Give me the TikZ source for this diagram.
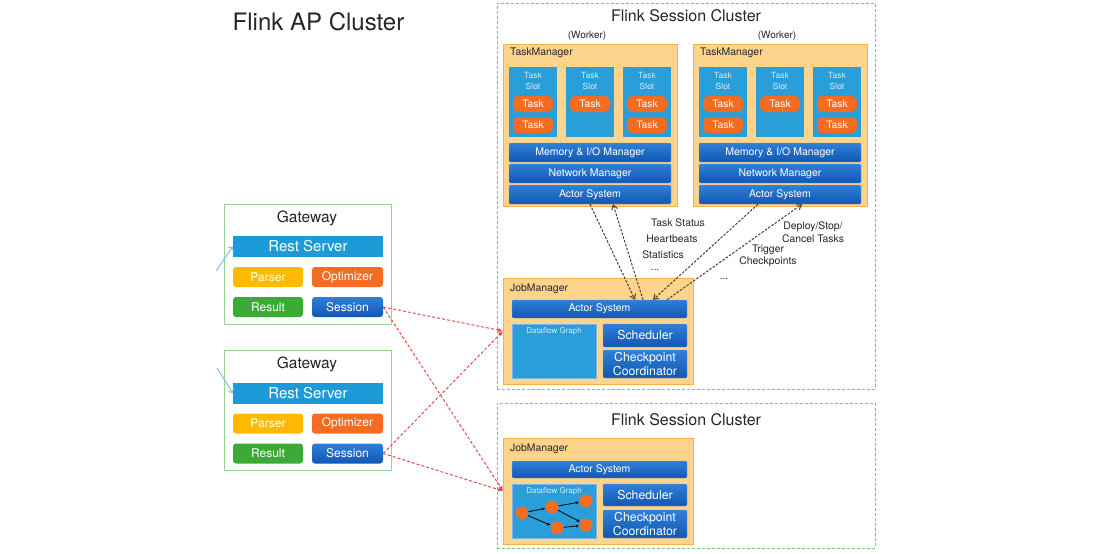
\documentclass[tikz,border=0pt]{standalone}
\usepackage{fontspec}
\setmainfont{TeX Gyre Heros}
\usetikzlibrary{arrows.meta}
\definecolor{ApText}{HTML}{262626}
\definecolor{ApGreen}{HTML}{9CD096}
\definecolor{ApCluster}{HTML}{7FC27B}
\definecolor{ApMgrFill}{HTML}{FDD48C}
\definecolor{ApMgrBorder}{HTML}{F6B24A}
\definecolor{ApSlot}{HTML}{2A9ED9}
\definecolor{ApSlotText}{HTML}{D3ECFA}
\definecolor{ApBarTop}{HTML}{2F80D7}
\definecolor{ApBarBot}{HTML}{1157B3}
\definecolor{ApTask}{HTML}{F36C21}
\definecolor{ApParser}{HTML}{FFBA00}
\definecolor{ApResult}{HTML}{3BAA36}
\definecolor{ApRest}{HTML}{1D9BD8}
\definecolor{ApRed}{HTML}{E84B4B}
\definecolor{ApFeed}{HTML}{7DB9E2}
\definecolor{ApMsg}{HTML}{4A3E30}

\begin{document}
\begin{tikzpicture}[
  x=1pt,y=-1pt,
  cluster/.style={draw=ApCluster,dash pattern=on 3pt off 2pt,line width=1pt,inner sep=0},
  mgr/.style={draw=ApMgrBorder,fill=ApMgrFill,line width=0.8pt,inner sep=0},
  mgrtitle/.style={anchor=west,text=ApText,font=\fontsize{10.4}{12}\selectfont,inner sep=0},
  slot/.style={fill=ApSlot,inner sep=0,minimum width=48pt,minimum height=70pt},
  slottext/.style={text=ApSlotText,align=center,font=\fontsize{8.5}{10.5}\selectfont,inner sep=0},
  pill/.style={fill=ApTask,rounded corners=6pt,text=white,minimum width=40pt,minimum height=16pt,inner sep=0,font=\fontsize{10.3}{12}\selectfont},
  bar/.style={top color=ApBarTop,bottom color=ApBarBot,draw=ApBarTop!70!white,rounded corners=1pt,text=white,inner sep=0,font=\fontsize{10.5}{12}\selectfont},
  bigbar/.style={bar,align=center,font=\fontsize{12.3}{14.5}\selectfont},
  dfbox/.style={fill=ApSlot,draw=ApBarTop!60!white,inner sep=0,minimum width=84pt,minimum height=54pt},
  dftext/.style={text=ApSlotText,font=\fontsize{8}{9}\selectfont,inner sep=0},
  gwbox/.style={draw=ApGreen,line width=1pt,minimum width=167pt,minimum height=120pt,inner sep=0},
  gwtitle/.style={text=ApText,font=\fontsize{15.5}{18}\selectfont,inner sep=0},
  btn/.style={rounded corners=3pt,text=white,inner sep=0,minimum height=20pt,minimum width=70pt,font=\fontsize{12}{14}\selectfont},
  note/.style={text=ApText,font=\fontsize{10.4}{12}\selectfont,inner sep=0},
  msg/.style={draw=ApMsg,dash pattern=on 2.5pt off 1.5pt,line width=1pt,-{Straight Barb[length=4.5pt,width=6pt]}},
  req/.style={draw=ApRed,dash pattern=on 3pt off 2pt,line width=1pt,-{Latex[length=5pt,width=4.5pt]}},
  feed/.style={draw=ApFeed,line width=0.9pt,-{Straight Barb[length=3pt]}},
  op/.style={circle,fill=ApTask,minimum size=13pt,inner sep=0},
  flow/.style={black,line width=0.8pt,-{Latex[length=3.5pt,width=3pt]}}
]
\path[fill=white] (0,0) rectangle (1098,554);
\useasboundingbox (0,0) rectangle (1098,554);

% title
\node[text=ApText,font=\fontsize{24}{28}\selectfont] (aptitle) at (318.5,22) {Flink AP Cluster};

% session clusters
\node[cluster,minimum width=378pt,minimum height=386pt] (sc1) at (686,196) {};
\node[text=ApText,font=\fontsize{16}{19}\selectfont] (sc1title) at (686,16) {Flink Session Cluster};
\node[cluster,minimum width=378pt,minimum height=145pt] (sc2) at (686,475.5) {};
\node[text=ApText,font=\fontsize{16}{19}\selectfont] (sc2title) at (686,420) {Flink Session Cluster};

% task managers
\foreach \i/\cx in {1/590,2/780} {
  \node[note,font=\fontsize{10}{12}\selectfont] (tm\i worker) at (\cx-3,36) {(Worker)};
  \node[mgr,minimum width=174pt,minimum height=162pt] (tm\i) at (\cx,125) {};
  \node[mgrtitle] (tm\i title) at (\cx-80,53) {TaskManager};
  \foreach \j/\dx in {a/-57,b/0,c/57} {
    \node[slot] (tm\i\j) at (\cx+\dx,102) {};
    \node[slottext] at (\cx+\dx,81) {Task\\Slot};
    \node[pill] (tm\i\j1) at (\cx+\dx,104) {Task};
  }
  \node[pill] (tm\i a2) at (\cx-57,125) {Task};
  \node[pill] (tm\i c2) at (\cx+57,125) {Task};
  \node[bar,minimum width=162pt,minimum height=19pt] (tm\i mem) at (\cx,152.5) {Memory \& I/O Manager};
  \node[bar,minimum width=162pt,minimum height=19pt] (tm\i net) at (\cx,173.5) {Network Manager};
  \node[bar,minimum width=162pt,minimum height=19pt] (tm\i act) at (\cx,194.5) {Actor System};
}

% job manager 1
\node[mgr,minimum width=190pt,minimum height=106pt] (jm1) at (598.5,331) {};
\node[mgrtitle] (jm1title) at (510,288.5) {JobManager};
\node[bar,minimum width=175pt,minimum height=18pt] (jm1act) at (599.5,309) {Actor System};
\node[dfbox] (jm1df) at (554,351) {};
\node[dftext] at (554,331) {Dataflow Graph};
\node[bigbar,minimum width=84pt,minimum height=23pt] (jm1sch) at (645,335.5) {Scheduler};
\node[bigbar,minimum width=84pt,minimum height=28pt] (jm1cp) at (645,364) {Checkpoint\\Coordinator};

% job manager 2
\node[mgr,minimum width=190pt,minimum height=106pt] (jm2) at (598.5,491) {};
\node[mgrtitle] (jm2title) at (510,449) {JobManager};
\node[bar,minimum width=175pt,minimum height=17pt] (jm2act) at (599.5,469.5) {Actor System};
\node[dfbox] (jm2df) at (554,511) {};
\node[dftext] at (554,491) {Dataflow Graph};
\node[bigbar,minimum width=84pt,minimum height=22pt] (jm2sch) at (645,495) {Scheduler};
\node[bigbar,minimum width=84pt,minimum height=28pt] (jm2cp) at (645,524) {Checkpoint\\Coordinator};
\node[op] (g1) at (522,513) {};
\node[op] (g2) at (552,507) {};
\node[op] (g3) at (557,528) {};
\node[op] (g4) at (586,501) {};
\node[op] (g5) at (586,525) {};
\draw[flow] (g1) -- (g2);
\draw[flow] (g1) -- (g3);
\draw[flow] (g2) -- (g4);
\draw[flow] (g2) -- (g5);
\draw[flow] (g3) -- (g5);

% messages between managers
\draw[msg] ([xshift=0pt]tm1act.south) -- ([xshift=35.5pt]jm1act.north);
\draw[msg] ([xshift=43.5pt]jm1act.north) -- ([xshift=23pt]tm1act.south);
\draw[msg] ([xshift=-22pt]tm2act.south) -- ([xshift=53.5pt]jm1act.north);
\draw[msg] ([xshift=67.5pt]jm1act.north) -- ([xshift=22pt]tm2act.south);
\node[note] (lblstatus) at (678,223) {Task Status};
\node[note] (lblbeats) at (672,239) {Heartbeats};
\node[note] (lblstats) at (663,255) {Statistics};
\node[note] (lbldots1) at (655,270) {...};
\node[note,align=center,font=\fontsize{10.4}{13}\selectfont] (lbldeploy) at (813,232.5) {Deploy/Stop/\\Cancel Tasks};
\node[note,align=center,font=\fontsize{10.4}{12}\selectfont] (lbltrigger) at (768,256) {Trigger\\Checkpoints};
\node[note] (lbldots2) at (724,279) {...};

% gateways
\foreach \i/\cy in {1/264,2/410.5} {
  \node[gwbox] (gw\i) at (307.5,\cy) {};
  \node[gwtitle] (gw\i title) at (307,\cy-46) {Gateway};
  \node[fill=ApRest,text=white,inner sep=0,minimum width=150pt,minimum height=21pt,font=\fontsize{15}{18}\selectfont] (rest\i) at (308,\cy-17.5) {Rest Server};
  \node[btn,fill=ApParser] (parser\i) at (268,\cy+13) {Parser};
  \node[btn,fill=ApTask,minimum width=71pt] (opt\i) at (347.5,\cy+13) {Optimizer};
  \node[btn,fill=ApResult] (result\i) at (268,\cy+43) {Result};
  \node[btn,top color=ApBarTop,bottom color=ApBarBot,minimum width=71pt] (session\i) at (347.5,\cy+43) {Session};
}
\coordinate (in1) at (216,271);
\coordinate (in2) at (217,368);
\draw[feed] (in1) -- (rest1.west);
\draw[feed] (in2) -- (rest2.west);

% gateway sessions to job managers
\draw[req] (session1.east) -- (jm1.west);
\draw[req] (session1.east) -- (jm2.west);
\draw[req] (session2.east) -- (jm1.west);
\draw[req] (session2.east) -- (jm2.west);
\end{tikzpicture}
\end{document}
